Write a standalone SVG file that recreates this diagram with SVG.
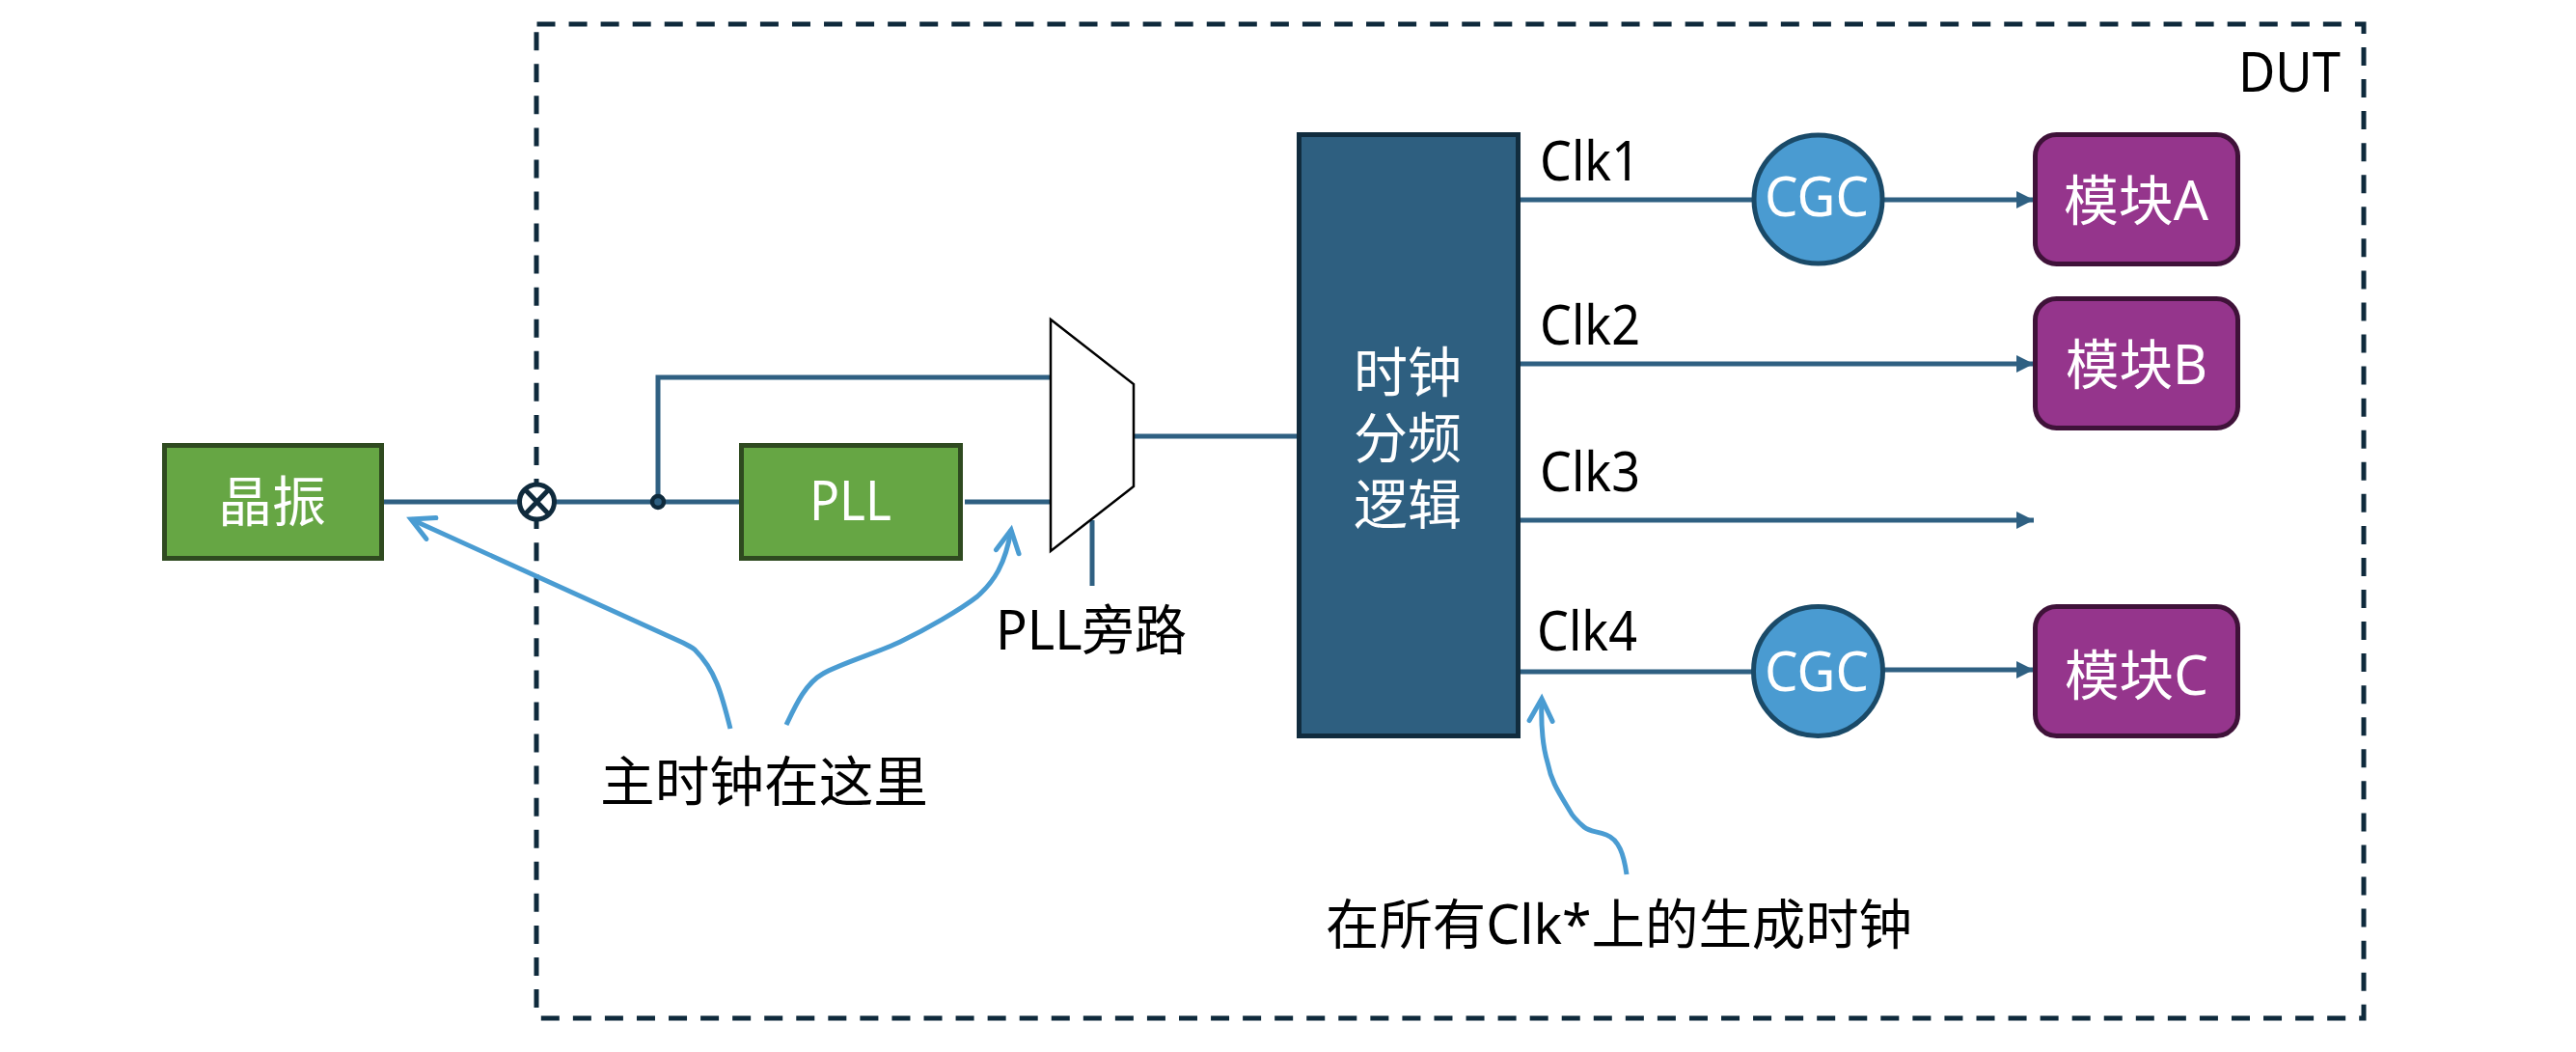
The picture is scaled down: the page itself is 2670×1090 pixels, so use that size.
<svg xmlns="http://www.w3.org/2000/svg" width="2670" height="1090" viewBox="0 0 2670 1090">
<style>
text{font-family:"Noto Sans","Noto Sans CJK SC",sans-serif;font-size:56px;fill:#000}
.w{fill:#fff}
.m{text-anchor:middle}
.wire{fill:none;stroke:#2f6082;stroke-width:5}
.note{fill:none;stroke:#4a9cd2;stroke-width:5;marker-end:url(#open)}
.dash{fill:none;stroke:#0f2a3c;stroke-width:5;stroke-dasharray:19 14.06}
.green{fill:#66a644;stroke:#2f4a20;stroke-width:5}
.purple{fill:#95358c;stroke:#3f1239;stroke-width:5}
.cgc{fill:#4a9bd1;stroke:#1a4a68;stroke-width:5}
</style>
<defs>
<marker id="arr" markerUnits="userSpaceOnUse" markerWidth="20" markerHeight="22" refX="18" refY="11" orient="auto"><path d="M0,2 L18,11 L0,20Z" fill="#2f6082"/></marker>
<marker id="open" markerUnits="userSpaceOnUse" markerWidth="44" markerHeight="44" refX="30" refY="22" orient="auto"><path d="M7,10 L30,22 L7,34" fill="none" stroke="#4a9cd2" stroke-width="5" stroke-linecap="round"/></marker>
</defs>
<g id="dut">
<path class="dash" d="M556.500,25 H2450 V1055 H559"/>
<path class="dash" d="M556,1044 V33"/>
<text x="2320" y="95" textLength="106" lengthAdjust="spacingAndGlyphs">DUT</text>
</g>
<g id="connectors">
<path class="wire" d="M398,520 H767"/>
<path class="wire" d="M682,520 V391 H1090"/>
<path class="wire" d="M1000,520 H1090"/>
<path class="wire" d="M1175,452 H1344"/>
<path class="wire" d="M1132,539 V607"/>
<path class="wire" d="M1576,207 H1817"/>
<path class="wire" marker-end="url(#arr)" d="M1952,207 H2108"/>
<path class="wire" marker-end="url(#arr)" d="M1576,377 H2108"/>
<path class="wire" marker-end="url(#arr)" d="M1576,539 H2108"/>
<path class="wire" d="M1576,696 H1817"/>
<path class="wire" marker-end="url(#arr)" d="M1952,694 H2108"/>
<path class="note" d="M757,755 C752,735 748,720 743,708 C737,693 727,680 720,673 C716,670 712,668 708,666 L426,538"/>
<path class="note" d="M815,751 C825,730 835,708 853,698 C870,688 910,676 933,665 C960,652 995,632 1013,618 C1030,603 1042,585 1048,549"/>
<path class="note" d="M1686,906 C1683,885 1678,870 1665,865 C1655,861 1648,862 1642,857 C1635,851 1630,846 1627,840 C1615,820 1608,810 1604,790 C1598,770 1597,750 1598,724"/>
</g>
<g id="osc"><rect class="green" x="170.500" y="461.500" width="225" height="117"/><text class="w m" x="282" y="540">晶振</text></g>
<g id="xing"><circle cx="556.500" cy="520" r="18" fill="#fff" stroke="#0f2a3c" stroke-width="5"/><path d="M544,507 L569,533 M569,507 L544,533" stroke="#0f2a3c" stroke-width="5" fill="none"/></g>
<g id="junction"><circle cx="682" cy="520" r="6" fill="#2f6082" stroke="#0f2a3c" stroke-width="4.500"/></g>
<g id="pll"><rect class="green" x="768.500" y="461.500" width="227" height="117"/><text class="w" x="839" y="539" textLength="85" lengthAdjust="spacingAndGlyphs">PLL</text></g>
<g id="mux"><path d="M1089,331 L1175,398 V504 L1089,571 Z" fill="#fff" stroke="#000" stroke-width="2.500"/></g>
<g id="bypass"><text x="1032" y="673" textLength="198" lengthAdjust="spacingAndGlyphs">PLL旁路</text></g>
<g id="divider"><rect x="1346.500" y="139.500" width="227" height="623" fill="#2e5f80" stroke="#112c3e" stroke-width="5"/>
<text class="w m" x="1459" y="406">时钟</text><text class="w m" x="1459" y="474">分频</text><text class="w m" x="1459" y="543">逻辑</text></g>
<g id="clk1"><text x="1596" y="187" textLength="104" lengthAdjust="spacingAndGlyphs">Clk1</text></g>
<g id="clk2"><text x="1596" y="357" textLength="104" lengthAdjust="spacingAndGlyphs">Clk2</text></g>
<g id="clk3"><text x="1596" y="509" textLength="104" lengthAdjust="spacingAndGlyphs">Clk3</text></g>
<g id="clk4"><text x="1593" y="674" textLength="104" lengthAdjust="spacingAndGlyphs">Clk4</text></g>
<g id="cgc1"><circle class="cgc" cx="1884.500" cy="206.500" r="66.500"/><text class="w" x="1829" y="224" textLength="108" lengthAdjust="spacingAndGlyphs">CGC</text></g>
<g id="cgc2"><circle class="cgc" cx="1884.500" cy="695.500" r="67"/><text class="w" x="1829" y="716" textLength="108" lengthAdjust="spacingAndGlyphs">CGC</text></g>
<g id="modA"><rect class="purple" x="2109.500" y="139.500" width="210" height="134" rx="22"/><text class="w" x="2139" y="228" textLength="150" lengthAdjust="spacingAndGlyphs">模块A</text></g>
<g id="modB"><rect class="purple" x="2109.500" y="309.500" width="210" height="134" rx="22"/><text class="w" x="2141" y="398" textLength="147" lengthAdjust="spacingAndGlyphs">模块B</text></g>
<g id="modC"><rect class="purple" x="2109.500" y="628.500" width="210" height="134" rx="22"/><text class="w" x="2140" y="720" textLength="149" lengthAdjust="spacingAndGlyphs">模块C</text></g>
<g id="note1"><text x="622" y="830" textLength="340" lengthAdjust="spacingAndGlyphs">主时钟在这里</text></g>
<g id="note2"><text x="1374" y="978" textLength="608" lengthAdjust="spacingAndGlyphs">在所有Clk*上的生成时钟</text></g>
</svg>
